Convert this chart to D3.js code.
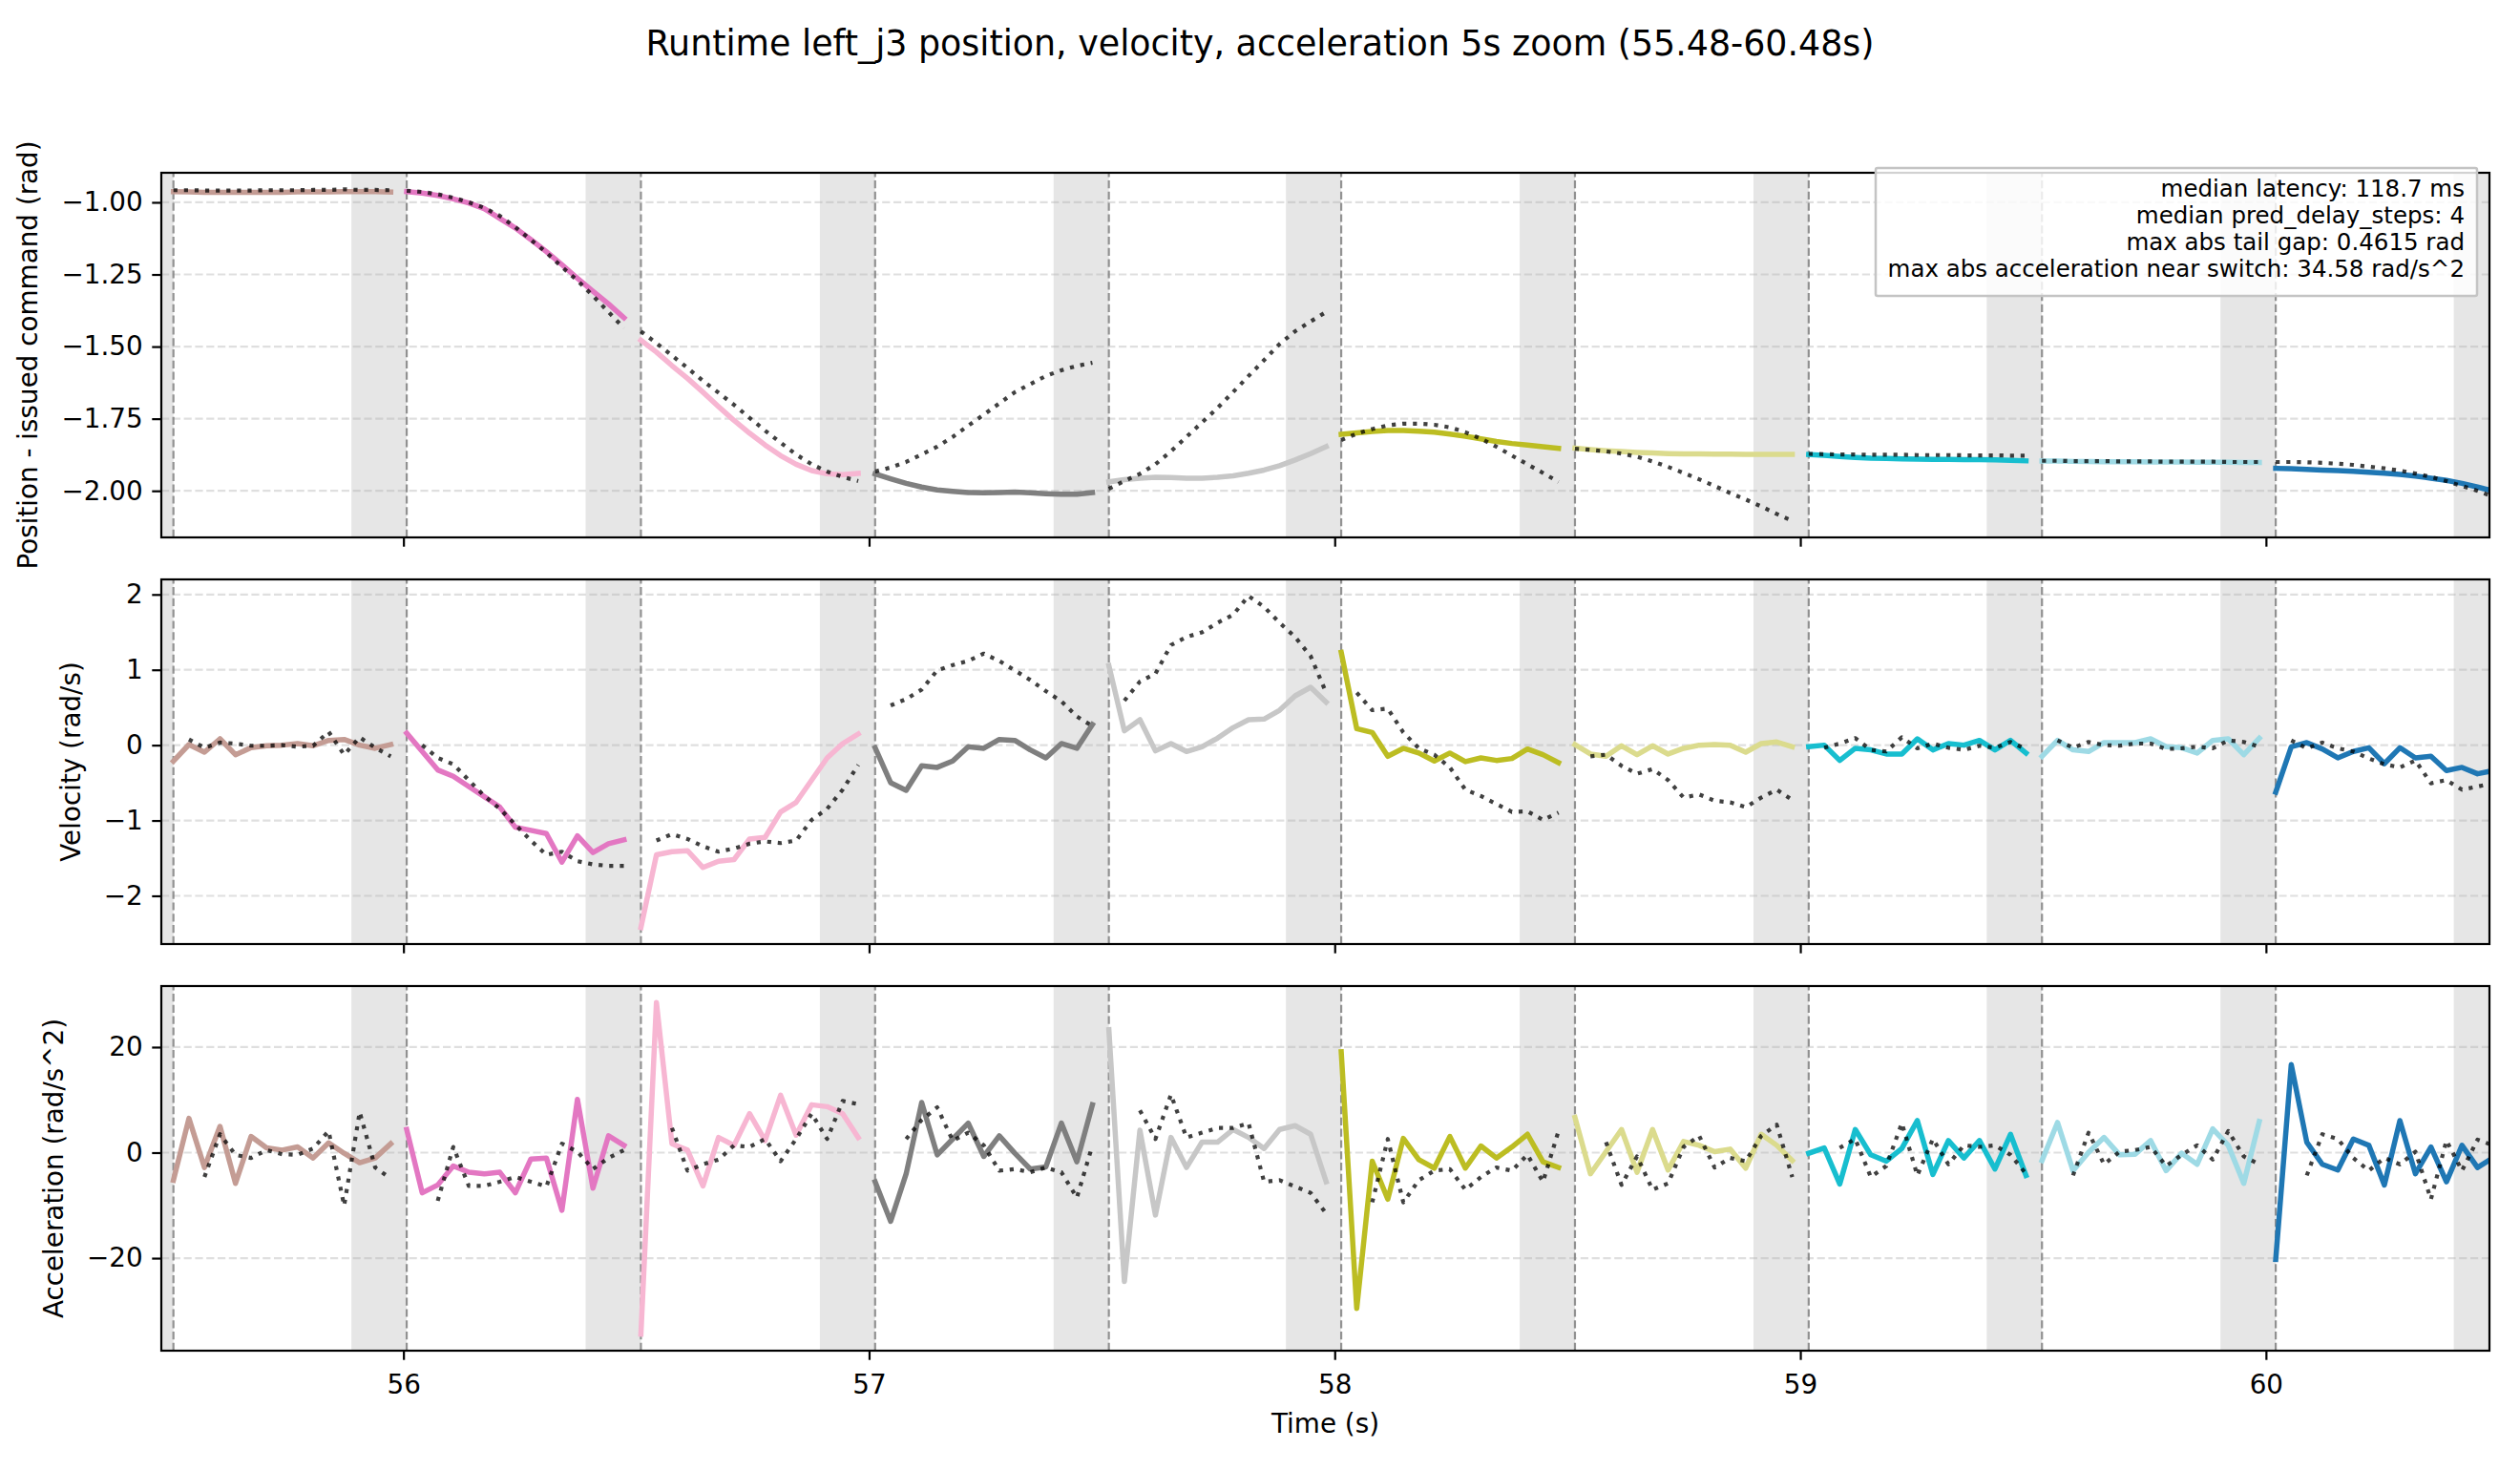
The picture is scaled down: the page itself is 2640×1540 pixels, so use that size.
<!DOCTYPE html>
<html>
<head>
<meta charset="utf-8">
<script src="https://cdn.jsdelivr.net/npm/d3@7"></script>
<style>
  body { margin: 0; background: #fff; }
  svg { display: block; }
</style>
</head>
<body>
<svg id="chart"></svg>
<script>
// ---- data ----
var switchTimes = [55.506, 56.007, 56.510, 57.013, 57.515, 58.014, 58.516, 59.018, 59.519, 60.021, 60.522];
var sampleDt = 1 / 30;
var latency = 0.1187;
var timeTicks = [56, 57, 58, 59, 60];
var segColors = ["#c49c94", "#e377c2", "#f7b6d2", "#7f7f7f", "#c7c7c7", "#bcbd22", "#dbdb8d", "#17becf", "#9edae5", "#1f77b4"];

var posTicks = [-2.0, -1.75, -1.5, -1.25, -1.0];
var velTicks = [-2, -1, 0, 1, 2];
var accTicks = [-20, 0, 20];

var posActual = [
  [-0.963,-0.964,-0.965,-0.965,-0.965,-0.965,-0.965,-0.965,-0.964,-0.964,-0.964,-0.963,-0.963,-0.963,-0.964],
  [-0.963,-0.968,-0.976,-0.988,-1.002,-1.022,-1.056,-1.089,-1.129,-1.171,-1.216,-1.263,-1.308,-1.352,-1.400],
  [-1.478,-1.519,-1.566,-1.610,-1.658,-1.708,-1.756,-1.800,-1.841,-1.878,-1.908,-1.930,-1.941,-1.944,-1.940],
  [-1.941,-1.958,-1.974,-1.987,-1.997,-2.002,-2.006,-2.007,-2.006,-2.004,-2.007,-2.010,-2.012,-2.012,-2.006],
  [-1.969,-1.961,-1.956,-1.953,-1.954,-1.956,-1.956,-1.953,-1.948,-1.939,-1.928,-1.913,-1.893,-1.871,-1.847],
  [-1.804,-1.799,-1.794,-1.791,-1.791,-1.793,-1.797,-1.803,-1.811,-1.820,-1.829,-1.836,-1.841,-1.847,-1.853],
  [-1.852,-1.857,-1.861,-1.864,-1.867,-1.869,-1.871,-1.872,-1.872,-1.873,-1.873,-1.874,-1.874,-1.874,-1.874],
  [-1.874,-1.877,-1.881,-1.884,-1.887,-1.888,-1.889,-1.890,-1.891,-1.891,-1.892,-1.892,-1.893,-1.894,-1.896],
  [-1.897,-1.897,-1.898,-1.898,-1.899,-1.899,-1.899,-1.900,-1.900,-1.900,-1.901,-1.901,-1.901,-1.902,-1.902],
  [-1.922,-1.923,-1.926,-1.928,-1.930,-1.932,-1.936,-1.939,-1.943,-1.949,-1.956,-1.964,-1.974,-1.987,-2.000]
];
var posCmd = [
  [-0.958,-0.958,-0.959,-0.959,-0.959,-0.959,-0.958,-0.958,-0.958,-0.957,-0.957,-0.955,-0.957,-0.957,-0.958],
  [-0.960,-0.964,-0.972,-0.984,-1.000,-1.019,-1.047,-1.086,-1.130,-1.174,-1.224,-1.271,-1.324,-1.380,-1.436],
  [-1.447,-1.488,-1.531,-1.574,-1.619,-1.660,-1.702,-1.747,-1.791,-1.833,-1.874,-1.908,-1.933,-1.952,-1.966],
  [-1.933,-1.919,-1.900,-1.874,-1.847,-1.813,-1.774,-1.736,-1.697,-1.658,-1.630,-1.602,-1.582,-1.567,-1.556],
  [-1.993,-1.966,-1.941,-1.908,-1.863,-1.813,-1.763,-1.713,-1.658,-1.602,-1.547,-1.491,-1.447,-1.413,-1.380],
  [-1.824,-1.802,-1.786,-1.773,-1.767,-1.767,-1.771,-1.780,-1.797,-1.819,-1.847,-1.878,-1.908,-1.938,-1.969],
  [-1.854,-1.858,-1.863,-1.871,-1.882,-1.898,-1.917,-1.938,-1.960,-1.983,-2.008,-2.030,-2.054,-2.080,-2.104],
  [-1.872,-1.873,-1.874,-1.874,-1.875,-1.875,-1.875,-1.876,-1.876,-1.876,-1.877,-1.877,-1.877,-1.878,-1.878],
  [-1.896,-1.896,-1.897,-1.897,-1.897,-1.898,-1.898,-1.898,-1.899,-1.899,-1.899,-1.899,-1.900,-1.900,-1.900],
  [-1.900,-1.900,-1.901,-1.903,-1.906,-1.910,-1.916,-1.922,-1.930,-1.940,-1.952,-1.966,-1.983,-2.000,-2.020]
];

var velActual = [
  [-0.211,0.008,-0.093,0.084,-0.127,-0.034,-0.008,0.000,0.021,-0.008,0.063,0.076,0.000,-0.042,0.008],
  [0.160,-0.084,-0.329,-0.414,-0.549,-0.684,-0.823,-1.089,-1.131,-1.173,-1.553,-1.203,-1.426,-1.308,-1.257],
  [-2.420,-1.456,-1.414,-1.401,-1.624,-1.540,-1.519,-1.245,-1.224,-0.886,-0.759,-0.464,-0.169,0.021,0.148],
  [-0.034,-0.498,-0.599,-0.274,-0.295,-0.211,-0.021,-0.042,0.076,0.063,-0.063,-0.169,0.021,-0.042,0.274],
  [1.055,0.190,0.338,-0.076,0.021,-0.084,-0.021,0.093,0.232,0.338,0.346,0.464,0.654,0.768,0.570],
  [1.232,0.219,0.169,-0.148,-0.042,-0.105,-0.211,-0.105,-0.219,-0.169,-0.203,-0.177,-0.051,-0.127,-0.232],
  [0.008,-0.118,-0.148,-0.008,-0.127,-0.008,-0.118,-0.042,0.000,0.008,0.000,-0.093,0.021,0.042,-0.021],
  [-0.021,0.000,-0.203,-0.042,-0.063,-0.118,-0.118,0.084,-0.063,0.021,0.000,0.063,-0.063,0.063,-0.105],
  [-0.148,0.063,-0.063,-0.084,0.034,0.034,0.034,0.084,-0.021,-0.034,-0.105,0.063,0.084,-0.127,0.093],
  [-0.624,-0.021,0.034,-0.051,-0.169,-0.084,-0.034,-0.245,-0.034,-0.169,-0.148,-0.338,-0.295,-0.380,-0.338]
];
var velCmd = [
  [null,0.076,-0.034,0.034,0.021,-0.008,-0.008,0.000,-0.021,-0.008,0.177,-0.127,0.105,-0.034,-0.148],
  [null,0.000,-0.169,-0.253,-0.464,-0.675,-0.844,-1.055,-1.266,-1.456,-1.414,-1.540,-1.582,-1.603,-1.603],
  [null,-1.266,-1.181,-1.245,-1.342,-1.414,-1.371,-1.308,-1.278,-1.300,-1.266,-0.992,-0.844,-0.591,-0.262],
  [null,0.527,0.612,0.738,0.992,1.063,1.118,1.215,1.118,0.992,0.865,0.717,0.582,0.380,0.253],
  [null,0.591,0.844,0.949,1.329,1.435,1.498,1.624,1.730,1.980,1.835,1.624,1.435,1.181,0.696],
  [null,0.696,0.464,0.485,0.169,-0.042,-0.127,-0.295,-0.591,-0.675,-0.781,-0.886,-0.878,-0.992,-0.895],
  [null,-0.148,-0.127,-0.274,-0.380,-0.317,-0.464,-0.696,-0.654,-0.738,-0.759,-0.823,-0.696,-0.591,-0.726],
  [null,-0.034,0.021,0.093,-0.063,-0.084,0.105,-0.042,0.021,-0.034,-0.063,-0.008,-0.034,0.042,-0.051],
  [null,0.063,-0.034,0.042,0.000,-0.008,0.021,0.021,-0.051,-0.042,-0.021,-0.042,0.063,0.042,-0.021],
  [null,0.063,-0.042,0.034,-0.042,-0.084,-0.177,-0.253,-0.295,-0.203,-0.506,-0.464,-0.591,-0.549,-0.506]
];

var accActual = [
  [-5.23,6.49,-2.82,4.98,-5.83,3.06,0.90,0.48,1.08,-1.02,1.86,-0.12,-1.92,-1.02,1.68],
  [4.38,-7.63,-6.13,-2.52,-3.72,-4.02,-3.72,-7.63,-1.20,-1.02,-10.93,10.09,-6.73,3.18,1.38],
  [-34.40,28.43,1.68,0.48,-6.31,2.88,1.38,7.39,2.28,10.87,3.30,9.07,8.71,7.39,2.88],
  [-5.53,-13.03,-4.02,9.49,-0.42,2.58,5.59,-0.72,3.18,-0.12,-3.12,-2.70,5.59,-1.74,9.07],
  [23.30,-24.44,4.26,-11.83,2.88,-2.82,1.98,1.98,4.38,2.88,0.78,4.38,5.11,3.48,-5.53],
  [19.10,-29.55,-1.62,-8.83,2.70,-1.32,-2.94,3.06,-2.94,1.26,-1.02,1.08,3.48,-1.74,-2.82],
  [6.67,-4.02,0.18,4.38,-3.72,4.38,-3.30,2.10,1.38,0.18,0.66,-2.94,3.48,1.38,-1.50],
  [-0.12,0.90,-5.95,4.38,-0.42,-1.62,0.78,6.07,-4.14,2.28,-1.02,2.28,-3.12,3.48,-4.32],
  [-1.50,5.71,-3.42,0.06,2.88,-0.42,-0.30,2.28,-3.42,-0.12,-2.22,4.50,1.38,-5.83,5.89],
  [-20.24,16.70,1.98,-2.22,-3.30,2.58,1.38,-6.13,6.07,-4.02,1.08,-5.53,1.38,-2.82,-1.00]
];
var accCmd = [
  [null,null,-4.62,3.48,-0.42,-1.02,0.48,-0.30,-0.42,0.78,4.08,-10.03,7.69,-2.82,-4.92],
  [null,null,-9.13,1.08,-6.31,-6.31,-5.53,-4.62,-5.53,-6.43,1.68,0.18,-3.12,-1.02,0.48],
  [null,null,4.68,-3.42,-2.22,-1.32,1.38,1.08,2.58,-1.62,2.58,7.39,2.58,9.79,9.19],
  [null,null,2.58,6.19,8.59,2.28,3.78,1.38,-3.42,-3.12,-3.72,-2.82,-3.72,-8.53,1.38],
  [null,null,7.99,2.58,10.99,2.88,3.78,4.68,4.68,5.59,-5.53,-5.23,-6.43,-7.63,-11.53],
  [null,null,-9.43,2.58,-9.43,-5.23,-3.42,-3.12,-7.03,-4.62,-2.82,-3.42,-0.42,-5.53,4.08],
  [null,null,1.98,-6.13,-0.72,-7.03,-5.83,1.08,3.18,-2.82,-1.02,-1.62,3.18,5.29,-4.62],
  [null,null,0.90,2.58,-4.62,-2.52,5.59,-4.32,2.58,-2.22,1.38,1.08,1.38,-0.42,-4.02],
  [null,null,-4.32,3.78,-2.22,0.18,0.48,1.08,-2.52,-0.42,1.38,-1.32,4.08,-0.72,-2.22],
  [null,null,-4.32,3.48,2.58,-1.02,-3.42,-1.02,-2.22,0.18,-8.83,2.28,-3.42,2.46,1.38]
];

var infoLines = [
  "median latency: 118.7 ms",
  "median pred_delay_steps: 4",
  "max abs tail gap: 0.4615 rad",
  "max abs acceleration near switch: 34.58 rad/s^2"
];

// ---- layout ----
var W = 2640, H = 1540;
var plotLeft = 169, plotRight = 2608, plotH = 382;
var font = "DejaVu Sans, sans-serif";
var fs = 27.8;

var svg = d3.select("#chart").attr("width", W).attr("height", H);
svg.append("rect").attr("width", W).attr("height", H).attr("fill", "#fff");

var x = d3.scaleLinear().domain([55.48, 60.48]).range([plotLeft, plotRight]);

function minus(s) { return s.replace(/-/g, "\u2212"); }

var panels = [
  {top: 181, actual: posActual, cmd: posCmd, ticks: posTicks, fmt: d3.format(".2f"), label: "Position - issued command (rad)"},
  {top: 607, actual: velActual, cmd: velCmd, ticks: velTicks, fmt: d3.format("d"), label: "Velocity (rad/s)"},
  {top: 1033, actual: accActual, cmd: accCmd, ticks: accTicks, fmt: d3.format("d"), label: "Acceleration (rad/s^2)"}
];

var line = d3.line()
  .defined(function(d) { return d.v != null; })
  .x(function(d) { return x(d.t); })
  .y(function(d) { return d.y; });

panels.forEach(function(p, pi) {
  var all = [];
  p.actual.concat(p.cmd).forEach(function(s) {
    s.forEach(function(v) { if (v != null) all.push(v); });
  });
  var ext = d3.extent(all), pad = (ext[1] - ext[0]) * 0.05;
  var y = d3.scaleLinear().domain([ext[0] - pad, ext[1] + pad]).range([p.top + plotH, p.top]);

  svg.append("clipPath").attr("id", "clip" + pi)
    .append("rect").attr("x", plotLeft).attr("y", p.top)
    .attr("width", plotRight - plotLeft).attr("height", plotH);

  var g = svg.append("g");
  var plot = g.append("g").attr("clip-path", "url(#clip" + pi + ")");

  // shaded latency windows before each switch
  plot.selectAll("rect.band").data(switchTimes).enter().append("rect")
    .attr("class", "band")
    .attr("x", function(d) { return x(d - latency); })
    .attr("width", function(d) { return x(d) - x(d - latency); })
    .attr("y", p.top).attr("height", plotH)
    .attr("fill", "#e6e6e6");

  // horizontal grid
  plot.selectAll("line.grid").data(p.ticks).enter().append("line")
    .attr("x1", plotLeft).attr("x2", plotRight)
    .attr("y1", function(d) { return y(d); }).attr("y2", function(d) { return y(d); })
    .attr("stroke", "#b0b0b0").attr("stroke-opacity", 0.4)
    .attr("stroke-width", 2.2).attr("stroke-dasharray", "8.2,3.6");

  // switch markers
  plot.selectAll("line.sw").data(switchTimes).enter().append("line")
    .attr("x1", function(d) { return x(d); }).attr("x2", function(d) { return x(d); })
    .attr("y1", p.top + plotH).attr("y2", p.top)
    .attr("stroke", "#808080").attr("stroke-opacity", 0.85)
    .attr("stroke-width", 2.2).attr("stroke-dasharray", "8.2,3.6");

  function pts(seg, k) {
    return seg.map(function(v, i) {
      return {t: switchTimes[k] + i * sampleDt, v: v, y: v == null ? 0 : y(v)};
    });
  }

  // measured segments
  p.actual.forEach(function(seg, k) {
    plot.append("path").datum(pts(seg, k))
      .attr("d", line)
      .attr("fill", "none")
      .attr("stroke", segColors[k])
      .attr("stroke-width", 5.5)
      .attr("stroke-linejoin", "round")
      .attr("stroke-linecap", "square");
  });
  // issued command (dotted)
  p.cmd.forEach(function(seg, k) {
    plot.append("path").datum(pts(seg, k))
      .attr("d", line)
      .attr("fill", "none")
      .attr("stroke", "#000").attr("stroke-opacity", 0.75)
      .attr("stroke-width", 4.2)
      .attr("stroke-dasharray", "4.2,6.9")
      .attr("stroke-linejoin", "round");
  });

  // axes
  var yAxis = g.append("g").attr("transform", "translate(" + plotLeft + ",0)")
    .call(d3.axisLeft(y).tickValues(p.ticks).tickSize(9.7).tickPadding(9.7)
      .tickFormat(function(d) { return minus(p.fmt(d)); }));
  yAxis.select(".domain").remove();
  yAxis.selectAll("line").attr("stroke", "#000").attr("stroke-width", 2.2);
  yAxis.selectAll("text").attr("font-family", font).attr("font-size", fs).attr("fill", "#000");

  var xAxis = g.append("g").attr("transform", "translate(0," + (p.top + plotH) + ")")
    .call(d3.axisBottom(x).tickValues(timeTicks).tickSize(9.7).tickPadding(15.6)
      .tickFormat(pi === 2 ? d3.format("d") : function() { return ""; }));
  xAxis.select(".domain").remove();
  xAxis.selectAll("line").attr("stroke", "#000").attr("stroke-width", 2.2);
  xAxis.selectAll("text").attr("font-family", font).attr("font-size", fs).attr("fill", "#000");

  // frame
  g.append("rect").attr("x", plotLeft).attr("y", p.top)
    .attr("width", plotRight - plotLeft).attr("height", plotH)
    .attr("fill", "none").attr("stroke", "#000").attr("stroke-width", 2.2);

  // y label, placed left of the tick labels (bbox is in the axis' local coords)
  var bb = yAxis.node().getBBox();
  var lx = plotLeft + bb.x - 25, ly = p.top + plotH / 2;
  g.append("text")
    .attr("transform", "translate(" + lx + "," + ly + ") rotate(-90)")
    .attr("text-anchor", "middle")
    .attr("font-family", font).attr("font-size", fs)
    .text(p.label);

  // info box in the top panel
  if (pi === 0) {
    var box = g.append("g");
    box.append("rect")
      .attr("x", 1965).attr("y", p.top - 5).attr("width", 630).attr("height", 134)
      .attr("rx", 2)
      .attr("fill", "#fff").attr("fill-opacity", 0.82)
      .attr("stroke", "#c4c4c4").attr("stroke-width", 2.5);
    box.selectAll("text").data(infoLines).enter().append("text")
      .attr("x", 2582)
      .attr("y", function(d, i) { return p.top + 25 + i * 28; })
      .attr("text-anchor", "end")
      .attr("font-family", font).attr("font-size", 24.5)
      .text(function(d) { return d; });
  }
});

// titles
svg.append("text")
  .attr("x", W / 2).attr("y", 58)
  .attr("text-anchor", "middle")
  .attr("font-family", font).attr("font-size", 36.4)
  .text("Runtime left_j3 position, velocity, acceleration 5s zoom (55.48-60.48s)");

svg.append("text")
  .attr("x", (plotLeft + plotRight) / 2).attr("y", 1501)
  .attr("text-anchor", "middle")
  .attr("font-family", font).attr("font-size", fs)
  .text("Time (s)");
</script>
</body>
</html>
